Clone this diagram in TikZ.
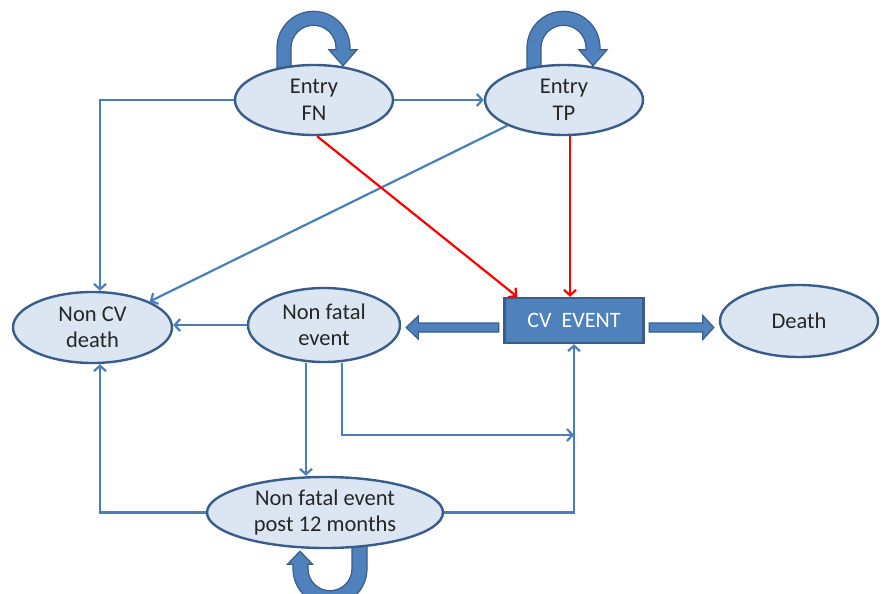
\documentclass[tikz,border=0pt]{standalone}
\usepackage{fontspec}
\setmainfont{Carlito}
\usetikzlibrary{shapes.geometric,arrows.meta,calc}
\pgfdeclarelayer{bg}
\pgfsetlayers{bg,main}
\definecolor{efill}{HTML}{DCE6F2}
\definecolor{edge}{HTML}{385D8A}
\definecolor{conn}{HTML}{4A7EBB}
\definecolor{boxc}{HTML}{4F81BD}
\definecolor{txt}{HTML}{262626}
\begin{document}
\begin{tikzpicture}[x=1pt,y=-1pt,
  state/.style={ellipse,draw=edge,line width=2.4pt,fill=efill,inner sep=0pt,align=center,text=txt,font=\fontsize{22.5}{26.5}\selectfont},
  cvbox/.style={rectangle,draw=edge,line width=2.4pt,fill=boxc,inner sep=0pt,minimum width=139pt,minimum height=45pt,text=white,font=\fontsize{22}{26}\selectfont},
  link/.style={draw=conn,line width=2.2pt,-{Straight Barb[length=5.5pt,width=12pt]}},
  redlink/.style={draw=red,line width=2.2pt,-{Straight Barb[length=5.5pt,width=12pt]}},
  loopband/.style={fill=boxc,draw=edge,line width=1.2pt},
  blockarr/.style={fill=boxc,draw=edge,line width=1.2pt}]
\useasboundingbox (0,0) rectangle (883,594);

% states
\node[state,minimum width=158pt,minimum height=70pt] (fn) at (314,100) {Entry\\FN};
\node[state,minimum width=158pt,minimum height=70pt] (tp) at (564,100) {Entry\\TP};
\node[state,minimum width=159pt,minimum height=71pt] (ncv) at (92.5,327.5) {Non CV\\death};
\node[state,minimum width=152pt,minimum height=74pt] (nf) at (324,325) {Non fatal\\event};
\node[cvbox] (cv) at (574,320.5) {CV\ \ EVENT};
\node[state,minimum width=158pt,minimum height=72pt] (death) at (799,321) {Death};
\node[state,minimum width=236pt,minimum height=71pt] (post) at (325,512.5) {Non fatal event\\post 12 months};

% self loops (behind states)
\begin{pgfonlayer}{bg}
\fill[white] (0,0) rectangle (883,594);
\begin{scope}[shift={(fn.north)}]
\filldraw[loopband] (-37,5) -- (-37,-16) arc[start angle=180,end angle=360,radius=36.5]
  -- (36,-14) -- (43,-14) -- (29,2) -- (15,-14) -- (22,-14) -- (22,-16)
  arc[start angle=360,end angle=180,radius=22.5] -- (-23,5) -- cycle;
\end{scope}
\begin{scope}[shift={(tp.north)}]
\filldraw[loopband] (-37,5) -- (-37,-16) arc[start angle=180,end angle=360,radius=36.5]
  -- (36,-14) -- (43,-14) -- (29,2) -- (15,-14) -- (22,-14) -- (22,-16)
  arc[start angle=360,end angle=180,radius=22.5] -- (-23,5) -- cycle;
\end{scope}
\begin{scope}[shift={(post.south)}]
\filldraw[loopband] (42,-5) -- (42,19.5) arc[start angle=0,end angle=180,radius=37]
  -- (-32,15) -- (-37.5,15) -- (-25,2) -- (-12.5,15) -- (-17,15) -- (-17,19.5)
  arc[start angle=180,end angle=0,radius=22] -- (27,-5) -- cycle;
\end{scope}
\end{pgfonlayer}

% connectors
\draw[link] (fn.west) -| ([xshift=7.5pt]ncv.north);
\draw[link] (fn.east) -- (tp.west);
\draw[link] (tp.south west) -- (ncv.north east);
\draw[redlink] ([xshift=3pt]fn.south) -- ([xshift=14pt]cv.north west);
\draw[redlink] ([xshift=6pt]tp.south) -- ([xshift=6pt]tp.south |- cv.north);
\draw[link] (nf.west) -- (nf.west -| ncv.east);
\draw[link] ([xshift=-18pt]nf.south) -- ([xshift=-18pt]nf.south |- post.north);
\coordinate (j) at (cv.south |- 0,435);
\draw[link] ([xshift=18pt]nf.south) |- (j);
\draw[link] (post.east) -| (cv.south);
\draw[link] (post.west) -| ([xshift=7.5pt]ncv.south);

% block arrows
\coordinate (la) at ([xshift=-4.5pt,yshift=-7pt]cv.west);
\coordinate (lt) at ($(la -| nf.east)+(5,0)$);
\filldraw[blockarr] ($(la)+(0,-4.5)$) -- ($(lt)+(12,-4.5)$) -- ($(lt)+(12,-11.5)$) -- (lt)
  -- ($(lt)+(12,11.5)$) -- ($(lt)+(12,4.5)$) -- ($(la)+(0,4.5)$) -- cycle;
\coordinate (ra) at ([xshift=4.5pt,yshift=-7pt]cv.east);
\coordinate (rt) at ($(ra -| death.west)+(-5,0)$);
\filldraw[blockarr] ($(ra)+(0,-4.5)$) -- ($(rt)+(-11,-4.5)$) -- ($(rt)+(-11,-12)$) -- (rt)
  -- ($(rt)+(-11,12)$) -- ($(rt)+(-11,4.5)$) -- ($(ra)+(0,4.5)$) -- cycle;
\end{tikzpicture}
\end{document}
